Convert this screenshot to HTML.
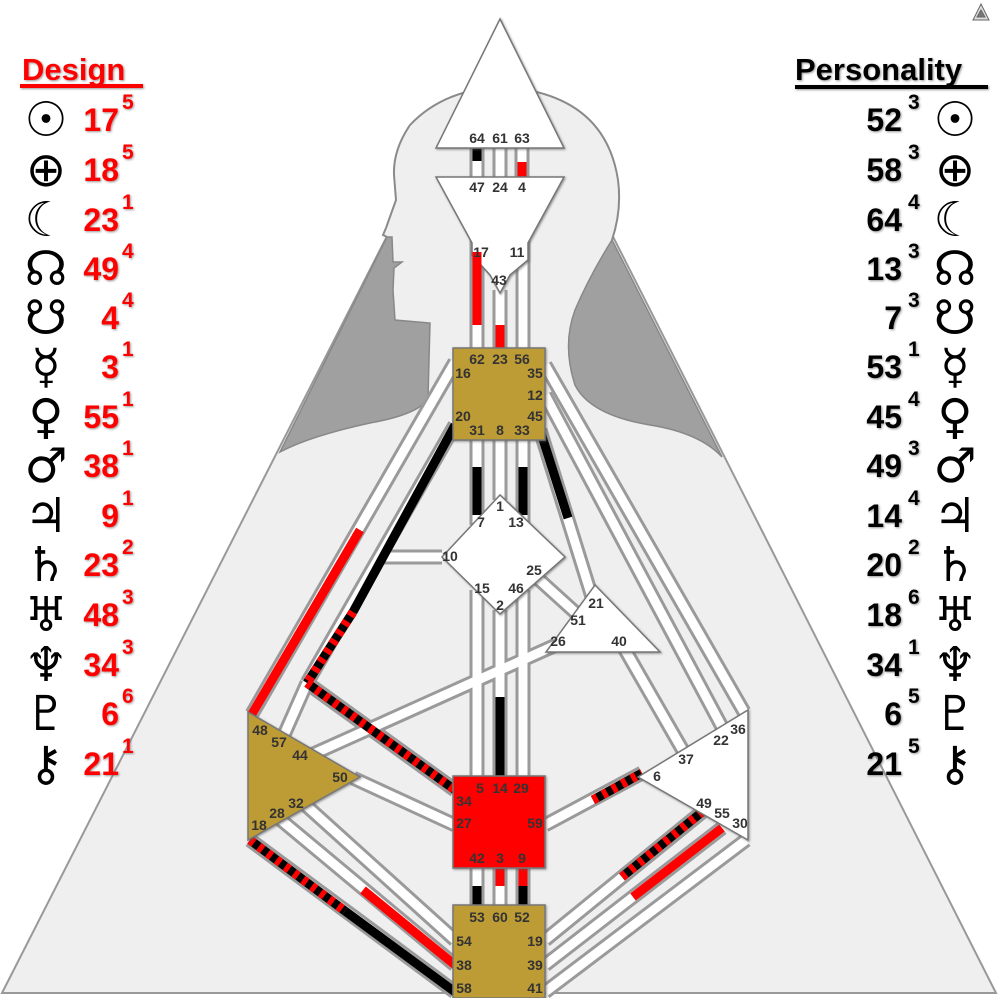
<!DOCTYPE html>
<html><head><meta charset="utf-8"><style>
html,body{margin:0;padding:0;background:#fff;}
svg{display:block}
.l{font-family:"Liberation Sans",sans-serif;font-weight:bold;font-size:14px;fill:#333;text-anchor:middle}
.n{font-family:"Liberation Sans",sans-serif;font-weight:bold;font-size:32px}
.s{font-family:"Liberation Sans",sans-serif;font-weight:bold;font-size:21px}
.g{font-family:"DejaVu Sans",sans-serif;font-size:48px;fill:#000;text-anchor:middle}
</style></head><body>
<svg width="998" height="998" viewBox="0 0 998 998" xmlns="http://www.w3.org/2000/svg">
<defs>
<filter id="sh" x="-10%" y="-10%" width="120%" height="120%"><feDropShadow dx="1" dy="1" stdDeviation="1" flood-color="#555" flood-opacity="0.6"/></filter>
</defs>
<polygon points="2,993 441,130 559,130 996,993" fill="#efefef" stroke="#999" stroke-width="2"/>
<path d="M387,237 L392,237 L393,262 L402,262 L394,268 L393,290 L395,320 L430,323 L428,400 L570,400 L570,340 Q590,270 612,240 Q622,210 618,180 Q605,95 505,87 Q445,88 410,125 Q393,150 394,175 L396,200 L386,228 L383,235 Z" fill="#efefef"/>
<path d="M612,240 Q622,210 618,180 Q605,95 505,87 Q445,88 410,125 Q393,150 394,175 L396,200 L386,228 L383,235 L387,237" fill="none" stroke="#8a8a8a" stroke-width="2"/>
<path d="M387,237 L392,237 L393,262 L402,262 L394,268 L393,290 L395,320 L430,323 L428,398 Q420,414 370,423 Q310,436 280,452 Z" fill="#a0a0a0" stroke="#888" stroke-width="1.5"/>
<path d="M612,240 Q590,275 575,310 Q562,345 575,385 Q590,415 650,425 Q700,433 722,457 Z" fill="#a0a0a0" stroke="#888" stroke-width="1.5"/>

<g stroke-linecap="butt" fill="none">
<g stroke="#9a9a9a" stroke-width="15">
<line x1="477" y1="146" x2="477" y2="179"/><line x1="500" y1="146" x2="500" y2="179"/><line x1="522" y1="146" x2="522" y2="179"/>
<line x1="477" y1="240" x2="477" y2="350"/><line x1="500" y1="290" x2="500" y2="350"/><line x1="523" y1="240" x2="523" y2="350"/>
<line x1="477" y1="438" x2="477" y2="525"/><line x1="500" y1="438" x2="500" y2="500"/><line x1="523" y1="438" x2="523" y2="525"/>
<line x1="477" y1="590" x2="477" y2="777"/><line x1="500" y1="610" x2="500" y2="777"/><line x1="523" y1="590" x2="523" y2="777"/>
<line x1="477" y1="866" x2="477" y2="907"/><line x1="500" y1="866" x2="500" y2="907"/><line x1="523" y1="866" x2="523" y2="907"/>
<line x1="455" y1="362" x2="252" y2="714"/>
<line x1="455" y1="425" x2="307" y2="683"/>
<line x1="307" y1="683" x2="455" y2="790"/>
<line x1="307" y1="683" x2="284" y2="735"/>
<line x1="442" y1="557" x2="379" y2="557"/>
<line x1="540" y1="430" x2="592" y2="597"/>
<line x1="545" y1="365" x2="744" y2="712"/>
<line x1="545" y1="395" x2="722" y2="727"/>
<line x1="534" y1="575" x2="577" y2="614"/>
<line x1="556" y1="645" x2="300" y2="760"/>
<line x1="624" y1="648" x2="686" y2="756"/>
<line x1="353" y1="778" x2="455" y2="825"/>
<line x1="545" y1="825" x2="642" y2="773"/>
<line x1="300" y1="800" x2="455" y2="940"/>
<line x1="275" y1="815" x2="455" y2="965"/>
<line x1="250" y1="840" x2="455" y2="992"/>
<line x1="545" y1="940" x2="702" y2="812"/>
<line x1="545" y1="965" x2="722" y2="828"/>
<line x1="545" y1="992" x2="746" y2="840"/>
</g>
<g stroke="#fff" stroke-width="9">
<line x1="477" y1="146" x2="477" y2="179"/><line x1="500" y1="146" x2="500" y2="179"/><line x1="522" y1="146" x2="522" y2="179"/>
<line x1="477" y1="240" x2="477" y2="350"/><line x1="500" y1="290" x2="500" y2="350"/><line x1="523" y1="240" x2="523" y2="350"/>
<line x1="477" y1="438" x2="477" y2="525"/><line x1="500" y1="438" x2="500" y2="500"/><line x1="523" y1="438" x2="523" y2="525"/>
<line x1="477" y1="590" x2="477" y2="777"/><line x1="500" y1="610" x2="500" y2="777"/><line x1="523" y1="590" x2="523" y2="777"/>
<line x1="477" y1="866" x2="477" y2="907"/><line x1="500" y1="866" x2="500" y2="907"/><line x1="523" y1="866" x2="523" y2="907"/>
<line x1="455" y1="362" x2="252" y2="714"/>
<line x1="455" y1="425" x2="307" y2="683"/>
<line x1="307" y1="683" x2="455" y2="790"/>
<line x1="307" y1="683" x2="284" y2="735"/>
<line x1="442" y1="557" x2="379" y2="557"/>
<line x1="540" y1="430" x2="592" y2="597"/>
<line x1="545" y1="365" x2="744" y2="712"/>
<line x1="545" y1="395" x2="722" y2="727"/>
<line x1="534" y1="575" x2="577" y2="614"/>
<line x1="556" y1="645" x2="300" y2="760"/>
<line x1="624" y1="648" x2="686" y2="756"/>
<line x1="353" y1="778" x2="455" y2="825"/>
<line x1="545" y1="825" x2="642" y2="773"/>
<line x1="300" y1="800" x2="455" y2="940"/>
<line x1="275" y1="815" x2="455" y2="965"/>
<line x1="250" y1="840" x2="455" y2="992"/>
<line x1="545" y1="940" x2="702" y2="812"/>
<line x1="545" y1="965" x2="722" y2="828"/>
<line x1="545" y1="992" x2="746" y2="840"/>
</g>
<g stroke-width="9">
<line x1="477" y1="146" x2="477" y2="161" stroke="#000"/>
<line x1="522" y1="162" x2="522" y2="179" stroke="#f00"/>
<line x1="477" y1="243" x2="477" y2="325" stroke="#f00"/>
<line x1="500" y1="325" x2="500" y2="350" stroke="#f00"/>
<line x1="477" y1="467" x2="477" y2="515" stroke="#000"/>
<line x1="523" y1="467" x2="523" y2="515" stroke="#000"/>
<line x1="500" y1="697" x2="500" y2="777" stroke="#000"/>
<line x1="477" y1="886" x2="477" y2="907" stroke="#000"/>
<line x1="500" y1="866" x2="500" y2="886" stroke="#f00"/>
<line x1="523" y1="866" x2="523" y2="886" stroke="#f00"/>
<line x1="523" y1="886" x2="523" y2="907" stroke="#000"/>
<line x1="360" y1="530" x2="252" y2="714" stroke="#f00"/>
<line x1="455" y1="425" x2="353" y2="612" stroke="#000"/>
<line x1="353" y1="612" x2="307" y2="683" stroke="#000"/>
<line x1="353" y1="612" x2="307" y2="683" stroke="#f00" stroke-dasharray="5 6"/>
<line x1="307" y1="683" x2="455" y2="790" stroke="#000"/>
<line x1="307" y1="683" x2="455" y2="790" stroke="#f00" stroke-dasharray="5 6"/>
<line x1="540" y1="430" x2="568" y2="518" stroke="#000"/>
<line x1="593" y1="800" x2="642" y2="773" stroke="#000"/>
<line x1="593" y1="800" x2="642" y2="773" stroke="#f00" stroke-dasharray="5 6"/>
<line x1="363" y1="890" x2="455" y2="965" stroke="#f00"/>
<line x1="250" y1="840" x2="345" y2="911" stroke="#000"/>
<line x1="250" y1="840" x2="345" y2="911" stroke="#f00" stroke-dasharray="5 6"/>
<line x1="345" y1="911" x2="455" y2="992" stroke="#000"/>
<line x1="622" y1="877" x2="702" y2="812" stroke="#000"/>
<line x1="622" y1="877" x2="702" y2="812" stroke="#f00" stroke-dasharray="5 6"/>
<line x1="633" y1="897" x2="722" y2="828" stroke="#f00"/>
</g>
</g>

<g stroke="#777" stroke-width="1.5" filter="url(#sh)">
<polygon points="500,19 564,148 436,148" fill="#fff"/>
<polygon points="436,177 564,177 528,243 528,260 510,275 500,293 490,275 472,255 472,243" fill="#fff"/>
<rect x="453" y="348" width="92" height="92" fill="#bd9b35"/>
<polygon points="500,495 565,557 500,614 442,557" fill="#fff"/>
<polygon points="595,585 660,652 546,652" fill="#fff"/>
<polygon points="248,712 360,777 248,840" fill="#bd9b35"/>
<polygon points="748,710 748,840 638,777" fill="#fff"/>
<rect x="453" y="776" width="92" height="92" fill="#f00"/>
<rect x="453" y="905" width="92" height="93" fill="#bd9b35"/>
</g>
<line x1="477" y1="252" x2="477" y2="325" stroke="#f00" stroke-width="9"/>

<g class="l">
<text x="477" y="143" class="l">64</text><text x="500" y="143" class="l">61</text><text x="522" y="143" class="l">63</text>
<text x="477" y="192" class="l">47</text><text x="500" y="192" class="l">24</text><text x="522" y="192" class="l">4</text>
<text x="481" y="257" class="l">17</text><text x="517" y="257" class="l">11</text><text x="499" y="285" class="l">43</text>
<text x="477" y="364" class="l">62</text><text x="500" y="364" class="l">23</text><text x="522" y="364" class="l">56</text>
<text x="463" y="378" class="l">16</text><text x="535" y="378" class="l">35</text><text x="535" y="400" class="l">12</text>
<text x="463" y="421" class="l">20</text><text x="535" y="421" class="l">45</text>
<text x="477" y="435" class="l">31</text><text x="500" y="435" class="l">8</text><text x="522" y="435" class="l">33</text>
<text x="500" y="511" class="l">1</text><text x="481" y="527" class="l">7</text><text x="516" y="527" class="l">13</text>
<text x="450" y="561" class="l">10</text><text x="534" y="575" class="l">25</text>
<text x="482" y="593" class="l">15</text><text x="516" y="593" class="l">46</text><text x="500" y="610" class="l">2</text>
<text x="596" y="608" class="l">21</text><text x="578" y="625" class="l">51</text><text x="558" y="646" class="l">26</text><text x="619" y="646" class="l">40</text>
<text x="260" y="735" class="l">48</text><text x="279" y="747" class="l">57</text><text x="300" y="760" class="l">44</text>
<text x="340" y="782" class="l">50</text><text x="296" y="808" class="l">32</text><text x="277" y="818" class="l">28</text><text x="259" y="830" class="l">18</text>
<text x="738" y="734" class="l">36</text><text x="721" y="745" class="l">22</text><text x="686" y="764" class="l">37</text>
<text x="657" y="781" class="l">6</text><text x="704" y="808" class="l">49</text><text x="722" y="818" class="l">55</text><text x="740" y="828" class="l">30</text>
<text x="480" y="793" class="l">5</text><text x="500" y="793" class="l">14</text><text x="521" y="793" class="l">29</text>
<text x="464" y="806" class="l">34</text><text x="464" y="828" class="l">27</text><text x="535" y="828" class="l">59</text>
<text x="477" y="863" class="l">42</text><text x="500" y="863" class="l">3</text><text x="522" y="863" class="l">9</text>
<text x="477" y="922" class="l">53</text><text x="500" y="922" class="l">60</text><text x="522" y="922" class="l">52</text>
<text x="464" y="946" class="l">54</text><text x="535" y="946" class="l">19</text>
<text x="464" y="970" class="l">38</text><text x="535" y="970" class="l">39</text>
<text x="464" y="993" class="l">58</text><text x="535" y="993" class="l">41</text>
</g>

<g transform="translate(973,4)" stroke="#666" stroke-width="1" fill="#ddd">
<polygon points="8,0 16,16 0,16"/><polygon points="8,6 12,13 4,13" fill="#777"/>
</g>

<g filter="url(#sh)">
<text x="22" y="80" font-family="Liberation Sans,sans-serif" font-weight="bold" font-size="31" fill="#f00">Design</text>
<rect x="20" y="84" width="123" height="4" fill="#f00"/>
<text x="795" y="80" font-family="Liberation Sans,sans-serif" font-weight="bold" font-size="31" fill="#000">Personality</text>
<rect x="795" y="85" width="193" height="4" fill="#000"/>
</g>
<g filter="url(#sh)">
<g fill="#f00" text-anchor="end">
<text class="n" x="119" y="131">17</text><text class="n" x="119" y="181">18</text><text class="n" x="119" y="231">23</text>
<text class="n" x="119" y="280">49</text><text class="n" x="119" y="329">4</text><text class="n" x="119" y="378">3</text>
<text class="n" x="119" y="428">55</text><text class="n" x="119" y="477">38</text><text class="n" x="119" y="527">9</text>
<text class="n" x="119" y="576">23</text><text class="n" x="119" y="626">48</text><text class="n" x="119" y="676">34</text>
<text class="n" x="119" y="725">6</text><text class="n" x="119" y="775">21</text>
</g>
<g fill="#f00">
<text class="s" x="122" y="109">5</text><text class="s" x="122" y="159">5</text><text class="s" x="122" y="209">1</text>
<text class="s" x="122" y="258">4</text><text class="s" x="122" y="307">4</text><text class="s" x="122" y="356">1</text>
<text class="s" x="122" y="406">1</text><text class="s" x="122" y="455">1</text><text class="s" x="122" y="505">1</text>
<text class="s" x="122" y="554">2</text><text class="s" x="122" y="604">3</text><text class="s" x="122" y="654">3</text>
<text class="s" x="122" y="703">6</text><text class="s" x="122" y="753">1</text>
</g>
<g fill="#000" text-anchor="end">
<text class="n" x="902" y="131">52</text><text class="n" x="902" y="181">58</text><text class="n" x="902" y="231">64</text>
<text class="n" x="902" y="280">13</text><text class="n" x="902" y="329">7</text><text class="n" x="902" y="378">53</text>
<text class="n" x="902" y="428">45</text><text class="n" x="902" y="477">49</text><text class="n" x="902" y="527">14</text>
<text class="n" x="902" y="576">20</text><text class="n" x="902" y="626">18</text><text class="n" x="902" y="676">34</text>
<text class="n" x="902" y="725">6</text><text class="n" x="902" y="775">21</text>
</g>
<g fill="#000">
<text class="s" x="908" y="109">3</text><text class="s" x="908" y="159">3</text><text class="s" x="908" y="209">4</text>
<text class="s" x="908" y="258">3</text><text class="s" x="908" y="307">3</text><text class="s" x="908" y="356">1</text>
<text class="s" x="908" y="406">4</text><text class="s" x="908" y="455">3</text><text class="s" x="908" y="505">4</text>
<text class="s" x="908" y="554">2</text><text class="s" x="908" y="604">6</text><text class="s" x="908" y="654">1</text>
<text class="s" x="908" y="703">5</text><text class="s" x="908" y="753">5</text>
</g>
</g>
<g>
<text class="g" x="46" y="136">☉</text><text class="g" x="46" y="186">⊕</text><text class="g" x="46" y="236">☾</text>
<text class="g" x="46" y="285">☊</text><text class="g" x="46" y="334">☋</text><text class="g" x="46" y="383">☿</text>
<text class="g" x="46" y="433">♀</text><text class="g" x="46" y="482">♂</text><text class="g" x="46" y="532">♃</text>
<text class="g" x="46" y="581">♄</text><text class="g" x="46" y="631">♅</text><text class="g" x="46" y="681">♆</text>
<text class="g" x="46" y="730">♇</text><text class="g" x="46" y="780">⚷</text>
<text class="g" x="955" y="136">☉</text><text class="g" x="955" y="186">⊕</text><text class="g" x="955" y="236">☾</text>
<text class="g" x="955" y="285">☊</text><text class="g" x="955" y="334">☋</text><text class="g" x="955" y="383">☿</text>
<text class="g" x="955" y="433">♀</text><text class="g" x="955" y="482">♂</text><text class="g" x="955" y="532">♃</text>
<text class="g" x="955" y="581">♄</text><text class="g" x="955" y="631">♅</text><text class="g" x="955" y="681">♆</text>
<text class="g" x="955" y="730">♇</text><text class="g" x="955" y="780">⚷</text>
</g>
</svg>
</body></html>
